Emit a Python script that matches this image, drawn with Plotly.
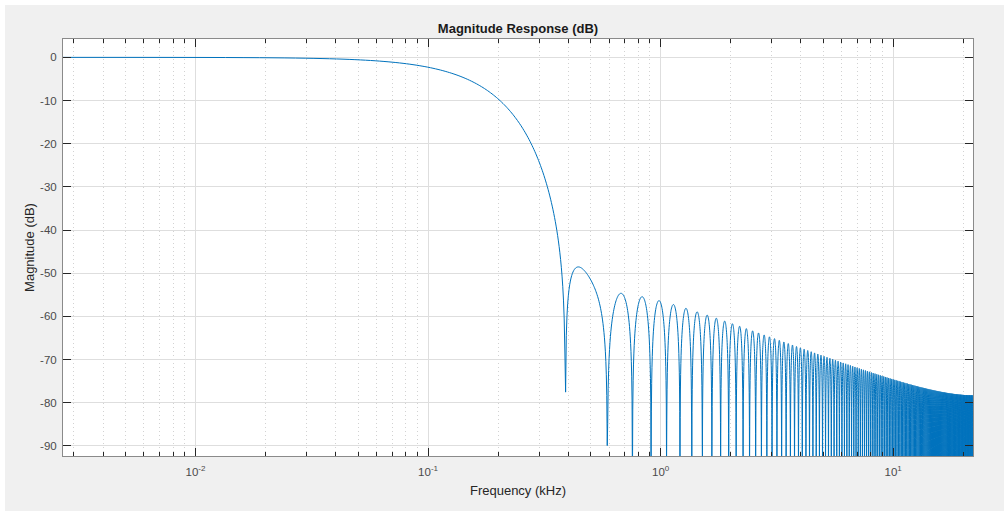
import numpy as np
import plotly.graph_objects as go

# ---- data ----
FS_KHZ = 44.1            # sample rate (Nyquist 22.05 kHz at the right edge)
N_FREQ = 8192            # frequency points from 0 to Nyquist
FILTER_ORDER = 292       # Hamming-window FIR low-pass, fitted to the lobes in the picture
CUTOFF_KHZ = 0.124

x_tick_vals = [0.01, 0.1, 1, 10]
x_tick_text = ['10<sup>-2</sup>', '10<sup>-1</sup>', '10<sup>0</sup>', '10<sup>1</sup>']
y_tick_vals = [0, -10, -20, -30, -40, -50, -60, -70, -80, -90]
y_tick_text = ['0', '-10', '-20', '-30', '-40', '-50', '-60', '-70', '-80', '-90']
y_range = [-92.32, 4.25]

# ---- magnitude response of the filter ----
n = np.arange(FILTER_ORDER + 1) - FILTER_ORDER / 2
taps = np.hamming(FILTER_ORDER + 1) * np.sinc(2 * CUTOFF_KHZ / FS_KHZ * n)
taps = taps / taps.sum()
spec = np.fft.rfft(taps, 2 * N_FREQ)
freq_all = np.arange(N_FREQ + 1) * (FS_KHZ / 2) / N_FREQ
mag_db_all = 20 * np.log10(np.maximum(np.abs(spec), 1e-12))
freq_khz = freq_all[1:N_FREQ]
resp_db = mag_db_all[1:N_FREQ]

minor_vals = [m * 10.0 ** e for e in range(-3, 2) for m in range(2, 10)]
minor_vals = [v for v in minor_vals if freq_khz[0] < v < freq_khz[-1]]

fig = go.Figure(go.Scatter(x=freq_khz, y=resp_db, mode='lines',
                           line=dict(color='#0072BD', width=1, simplify=False), hoverinfo='skip'))
font = 'Liberation Sans, Arial, sans-serif'
L, R, T, B = 63, 31, 39, 55
W, Hh = 1004, 511
pw, ph = W - L - R, Hh - T - B


def px(x):
    return (x - L) / pw


def py(y):
    return (Hh - B - y) / ph


shapes = [
    dict(type='rect', xref='paper', yref='paper', x0=px(0), x1=px(5), y0=py(Hh), y1=py(0),
         fillcolor='white', line=dict(width=0), layer='below'),
    dict(type='rect', xref='paper', yref='paper', x0=px(0), x1=px(W), y0=py(5), y1=py(0),
         fillcolor='white', line=dict(width=0), layer='below'),
]
fig.update_layout(
    width=W, height=Hh, margin=dict(l=L, r=R, t=T, b=B, autoexpand=False),
    paper_bgcolor='#f0f0f0', plot_bgcolor='white', showlegend=False,
    font=dict(family=font, size=11.5, color='#4a4a4a'),
    shapes=shapes,
    title=dict(text='<b>Magnitude Response (dB)</b>', x=0.5, xref='paper', y=1, yref='paper',
               yanchor='bottom', pad=dict(b=6), font=dict(size=13, color='#1a1a1a')),
)
fig.update_xaxes(type='log', range=[np.log10(freq_khz[0]), np.log10(freq_khz[-1])],
                 tickvals=x_tick_vals, ticktext=x_tick_text,
                 ticks='inside', ticklen=8, tickcolor='#262626', showline=True, linecolor='#8a8a8a',
                 linewidth=1, mirror='ticks', showgrid=True, gridcolor='#dedede', zeroline=False,
                 ticklabelstandoff=5, automargin=False,
                 minor=dict(tickvals=minor_vals, ticks='inside', ticklen=4, tickcolor='#262626',
                            showgrid=True, gridcolor='#d2d2d2', griddash='1px,3px'),
                 title=dict(text='Frequency (kHz)', font=dict(size=13, color='#262626'), standoff=9))
fig.update_yaxes(range=y_range, tickvals=y_tick_vals, ticktext=y_tick_text,
                 ticks='inside', ticklen=8, tickcolor='#262626', showline=True, linecolor='#8a8a8a',
                 linewidth=1, mirror='ticks', showgrid=True, gridcolor='#dedede', zeroline=False,
                 ticklabelstandoff=3, automargin=False,
                 title=dict(text='Magnitude (dB)', font=dict(size=13, color='#262626'), standoff=2))
fig.write_html('out.html', config={'displayModeBar': False},
               post_script="document.body.style.margin='0px';document.body.style.overflow='hidden';")
